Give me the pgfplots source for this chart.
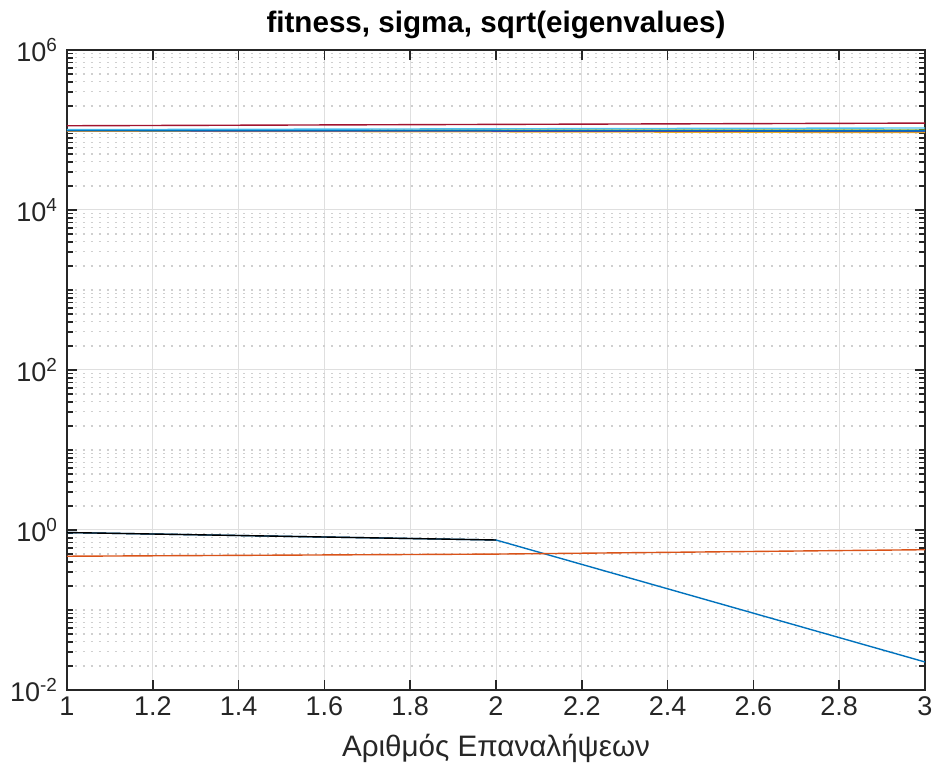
\documentclass[border=0pt]{standalone}
\usepackage{fontspec}
\setmainfont{Liberation Sans}
\usepackage{pgfplots}
\pgfplotsset{compat=1.18}
\definecolor{mblue}{rgb}{0,0.447,0.741}
\definecolor{morange}{rgb}{0.850,0.325,0.098}
\definecolor{myellow}{rgb}{0.929,0.694,0.125}
\definecolor{mpurple}{rgb}{0.494,0.184,0.556}
\definecolor{mgreen}{rgb}{0.466,0.674,0.188}
\definecolor{mcyan}{rgb}{0.301,0.745,0.933}
\definecolor{mred}{rgb}{0.635,0.078,0.184}
\definecolor{axgray}{rgb}{0.15,0.15,0.15}
\begin{document}
\begin{tikzpicture}
\useasboundingbox (0,0) rectangle (466.5pt,388pt);
\begin{semilogyaxis}[
  at={(33.5pt,43pt)}, anchor=south west,
  width=429pt, height=320pt, scale only axis,
  xmin=1, xmax=3, ymin=1e-2, ymax=1e6,
  xtick={1,1.2,1.4,1.6,1.8,2,2.2,2.4,2.6,2.8,3},
  xticklabels={1,1.2,1.4,1.6,1.8,2,2.2,2.4,2.6,2.8,3},
  ytick={1e-2,1,1e2,1e4,1e6},
  yticklabels={10\textsuperscript{-2},10\textsuperscript{0},10\textsuperscript{2},10\textsuperscript{4},10\textsuperscript{6}},
  minor ytick={2e-2,3e-2,4e-2,5e-2,6e-2,7e-2,8e-2,9e-2,0.1,
    0.2,0.3,0.4,0.5,0.6,0.7,0.8,0.9,
    2,3,4,5,6,7,8,9,10,
    20,30,40,50,60,70,80,90,
    200,300,400,500,600,700,800,900,1000,
    2000,3000,4000,5000,6000,7000,8000,9000,
    2e4,3e4,4e4,5e4,6e4,7e4,8e4,9e4,1e5,
    2e5,3e5,4e5,5e5,6e5,7e5,8e5,9e5},
  tick label style={font=\fontsize{13.5}{15}\selectfont, text=axgray},
  yticklabel style={xshift=-1pt},
  xlabel={Αριθμός Επαναλήψεων},
  xlabel style={font=\fontsize{14.8}{16}\selectfont, text=axgray, yshift=-2pt},
  title={\textbf{fitness, sigma, sqrt(eigenvalues)}},
  title style={font=\fontsize{14.8}{17}\selectfont, yshift=-4pt},
  tick align=inside,
  axis line style={axgray, line width=0.8pt},
  major tick style={axgray, line width=0.8pt},
  minor tick style={axgray, line width=0.8pt},
  major tick length=5pt, minor tick length=3pt,
  grid=both,
  major grid style={gray!25, line width=0.5pt},
  minor grid style={gray!38, line width=0.6pt, dash pattern=on 0.8pt off 3.2pt},
  minor x tick num=0,
  every axis plot/.append style={line width=0.7pt, mark=none},
]
\addplot[mblue] coordinates {(1,0.93) (2,0.75) (3,0.0224)};
\addplot[morange] coordinates {(1,0.47) (2,0.50) (3,0.567)};
\addplot[myellow] coordinates {(1,9.7e4) (2,9.5e4) (3,9.3e4)};
\addplot[mpurple] coordinates {(1,9.8e4) (2,9.7e4) (3,9.6e4)};
\addplot[mgreen] coordinates {(1,9.9e4) (2,9.95e4) (3,1.0e5)};
\addplot[mcyan] coordinates {(1,1.01e5) (2,1.035e5) (3,1.06e5)};
\addplot[mred] coordinates {(1,1.13e5) (2,1.175e5) (3,1.22e5)};
\addplot[mblue] coordinates {(1,9.85e4) (2,9.8e4) (3,9.75e4)};
\addplot[black] coordinates {(1,0.93) (2,0.75)};
\end{semilogyaxis}
\end{tikzpicture}
\end{document}
